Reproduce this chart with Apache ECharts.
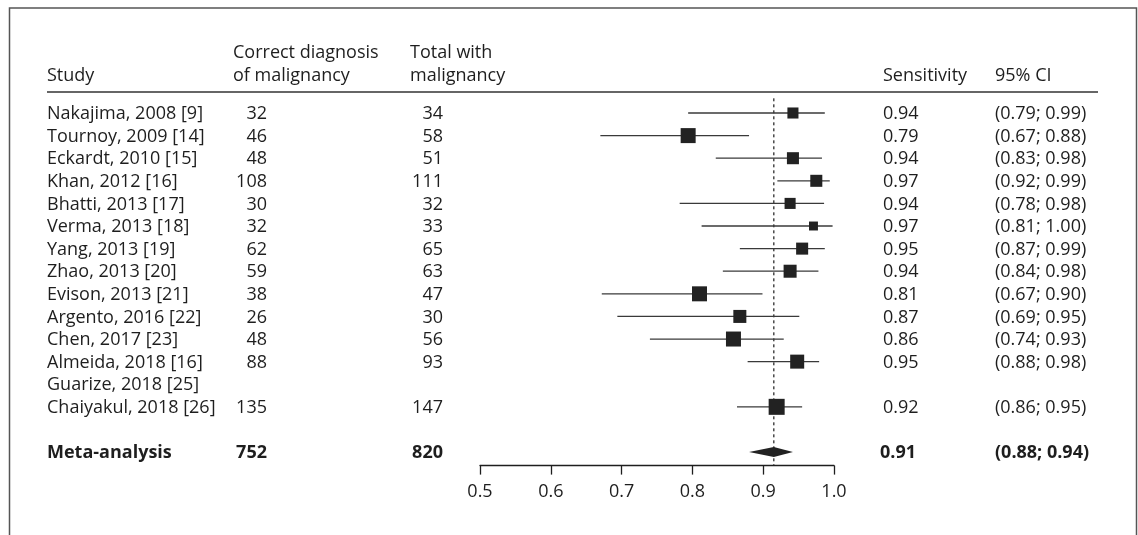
<!DOCTYPE html>
<html>
<head>
<meta charset="utf-8">
<script src="https://cdn.jsdelivr.net/npm/echarts@6/dist/echarts.min.js"></script>
<style>
html,body{margin:0;padding:0;background:#fff;}
#chart{width:1138px;height:535px;}
</style>
</head>
<body>
<div id="chart"></div>
<script>
// ---- data ----
const studies = ['Nakajima, 2008 [9]','Tournoy, 2009 [14]','Eckardt, 2010 [15]','Khan, 2012 [16]','Bhatti, 2013 [17]','Verma, 2013 [18]','Yang, 2013 [19]','Zhao, 2013 [20]','Evison, 2013 [21]','Argento, 2016 [22]','Chen, 2017 [23]','Almeida, 2018 [16]','Guarize, 2018 [25]','Chaiyakul, 2018 [26]'];
const correct = [32,46,48,108,30,32,62,59,38,26,48,88,null,135];
const totals = [34,58,51,111,32,33,65,63,47,30,56,93,null,147];
const estimates = [0.942,0.794,0.942,0.975,0.938,0.971,0.955,0.938,0.810,0.867,0.858,0.948,null,0.919];
const ciLow = [0.794,0.670,0.833,0.920,0.782,0.813,0.867,0.843,0.672,0.694,0.740,0.878,null,0.863];
const ciHigh = [0.987,0.880,0.983,0.994,0.986,0.998,0.987,0.978,0.899,0.951,0.929,0.979,null,0.955];
const weights = [5.5,10.1,6.5,6.5,5.5,3.6,6.5,7.6,10.1,7.6,10.1,8.8,null,11.5];
const sensText = ['0.94','0.79','0.94','0.97','0.94','0.97','0.95','0.94','0.81','0.87','0.86','0.95','','0.92'];
const ciText = ['(0.79; 0.99)','(0.67; 0.88)','(0.83; 0.98)','(0.92; 0.99)','(0.78; 0.98)','(0.81; 1.00)','(0.87; 0.99)','(0.84; 0.98)','(0.67; 0.90)','(0.69; 0.95)','(0.74; 0.93)','(0.88; 0.98)','','(0.86; 0.95)'];
const metaLabel = 'Meta-analysis';
const metaCorrect = 752;
const metaTotal = 820;
const metaEst = 0.915;
const metaLow = 0.880;
const metaHigh = 0.942;
const metaSensText = '0.91';
const metaCiText = '(0.88; 0.94)';
const metaRow = 15;
const xTicks = [0.5,0.6,0.7,0.8,0.9,1.0];
const headers = {study:'Study', correct:['Correct diagnosis','of malignancy'], total:['Total with','malignancy'], sens:'Sensitivity', ci:'95% CI'};

// ---- styling ----
const FONT = 'Open Sans';
const FS = 18;
const TXT = '#1e1e1e';
const colX = {study:47, correct:267, total:443, sens:883, ci:995};

const chart = echarts.init(document.getElementById('chart'), null, {renderer:'canvas'});

const studyRows = studies.map((s,i)=>i);
const ciData = [], boxData = [];
studies.forEach((s,i)=>{
  if (estimates[i] != null) {
    ciData.push([ciLow[i], ciHigh[i], i]);
    boxData.push([estimates[i], i, weights[i]]);
  }
});

function txt(x,y,text,align,bold){
  return {type:'text', style:{x:x, y:y, text:text, align:align, verticalAlign:'middle',
    fontFamily:FONT, fontSize:FS, fontWeight:bold?'bold':'normal', fill:TXT}};
}

const option = {
  animation:false,
  backgroundColor:'#fff',
  grid:{left:480, top:90.4, width:354, height:375.2, containLabel:false},
  xAxis:{type:'value', min:0.5, max:1.0, interval:0.1,
    axisLine:{show:true, onZero:false, lineStyle:{color:TXT, width:1.3}},
    axisTick:{show:true, length:9, lineStyle:{color:TXT, width:1.3}},
    splitLine:{show:false},
    axisLabel:{fontFamily:FONT, fontSize:FS, color:TXT, margin:17,
      formatter:v=>{const t=xTicks.find(k=>Math.abs(k-v)<1e-9); return t!=null?t.toFixed(1):'';}}
  },
  yAxis:{type:'value', inverse:true, min:-1, max:15.6, show:false},
  graphic:[
    {type:'rect', shape:{x:9.5, y:8, width:1127, height:700}, style:{fill:'none', stroke:'#555', lineWidth:1.5}},
    {type:'line', shape:{x1:47, y1:92, x2:1098, y2:92}, style:{stroke:'#333', lineWidth:1.3}},
    txt(colX.study, 76, headers.study, 'left'),
    txt(233, 53, headers.correct[0], 'left'),
    txt(233, 76, headers.correct[1], 'left'),
    txt(410, 53, headers.total[0], 'left'),
    txt(410, 76, headers.total[1], 'left'),
    txt(colX.sens, 76, headers.sens, 'left'),
    txt(colX.ci, 76, headers.ci, 'left')
  ],
  series:[
    { // reference (pooled) dotted line
      type:'custom', z:1, clip:false,
      data:[[metaEst, -0.65, 15.6]],
      renderItem:(p,api)=>{
        const a=api.coord([api.value(0),api.value(1)]), b=api.coord([api.value(0),api.value(2)]);
        return {type:'line', shape:{x1:a[0],y1:a[1],x2:b[0],y2:b[1]}, style:{stroke:TXT, lineWidth:1.2, lineDash:[3,3]}};
      }
    },
    { // confidence intervals
      type:'custom', z:2, clip:false,
      data:ciData,
      renderItem:(p,api)=>{
        const a=api.coord([api.value(0),api.value(2)]), b=api.coord([api.value(1),api.value(2)]);
        return {type:'line', shape:{x1:a[0],y1:a[1],x2:b[0],y2:b[1]}, style:{stroke:'#3a3a3a', lineWidth:1.3}};
      }
    },
    { // study boxes
      type:'scatter', z:3,
      symbol:'rect',
      data:boxData,
      symbolSize:v=>4.72*Math.sqrt(v[2]),
      itemStyle:{color:'#222', opacity:1}
    },
    { // pooled diamond
      type:'custom', z:3, clip:false,
      data:[[metaLow, metaEst, metaHigh, metaRow]],
      renderItem:(p,api)=>{
        const l=api.coord([api.value(0),api.value(3)]), c=api.coord([api.value(1),api.value(3)]), r=api.coord([api.value(2),api.value(3)]);
        const h=5;
        return {type:'polygon', shape:{points:[[l[0],l[1]],[c[0],c[1]-h],[r[0],r[1]],[c[0],c[1]+h]]}, style:{fill:'#222'}};
      }
    },
    { // table text, one row per study
      type:'custom', z:4, clip:false, silent:true,
      data:studyRows.map(i=>[0.5,i]),
      renderItem:(p,api)=>{
        const i=p.dataIndex;
        const y=api.coord([0.5, api.value(1)])[1]+1;
        const children=[txt(colX.study,y,studies[i],'left')];
        if (correct[i]!=null) children.push(txt(colX.correct,y,String(correct[i]),'right'));
        if (totals[i]!=null) children.push(txt(colX.total,y,String(totals[i]),'right'));
        if (sensText[i]) children.push(txt(colX.sens,y,sensText[i],'left'));
        if (ciText[i]) children.push(txt(colX.ci,y,ciText[i],'left'));
        return {type:'group', children:children};
      }
    },
    { // meta-analysis text row
      type:'custom', z:4, clip:false, silent:true,
      data:[[0.5, metaRow]],
      renderItem:(p,api)=>{
        const y=api.coord([0.5, api.value(1)])[1]+1;
        return {type:'group', children:[
          txt(colX.study,y,metaLabel,'left',true),
          txt(colX.correct,y,String(metaCorrect),'right',true),
          txt(colX.total,y,String(metaTotal),'right',true),
          txt(colX.sens-3,y,metaSensText,'left',true),
          txt(colX.ci,y,metaCiText,'left',true)
        ]};
      }
    }
  ]
};
chart.setOption(option);
</script>
</body>
</html>
